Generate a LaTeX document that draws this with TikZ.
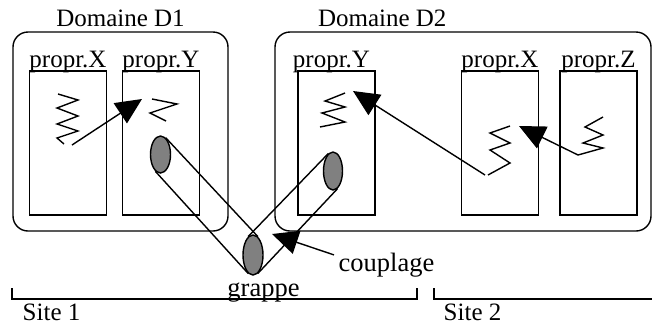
\documentclass[tikz,border=0pt]{standalone}
\usepackage{fontspec}
\setmainfont{Liberation Serif}
\usetikzlibrary{arrows.meta,shapes.geometric}
\definecolor{grappe_gray}{RGB}{128,128,128}

\begin{document}
\begin{tikzpicture}[x=1pt,y=-1pt,line width=1.4pt]
    \tikzstyle{dom}=[draw, rectangle, rounded corners=15pt, minimum width=215pt, minimum height=199pt, inner sep=0pt]
    \tikzstyle{prop}=[draw, rectangle, minimum width=77pt, minimum height=144pt, inner sep=0pt]
    \tikzstyle{grappe}=[draw, ellipse, fill=grappe_gray, inner sep=0pt, minimum width=20pt, minimum height=38pt]
    \tikzstyle{lbl}=[inner sep=0pt, font=\fontsize{25}{30}\selectfont]
    \tikzstyle{lblg}=[style=lbl, font=\fontsize{26.5}{30}\selectfont]
    \tikzstyle{fleche}=[-{Triangle[length=26pt,width=24pt]}]

    \useasboundingbox (0,0) rectangle (652,325);

    % domaines
    \node[dom]                      (dom1) at (120.5,131.5) {};
    \node[dom, minimum width=376pt] (dom2) at (463,131.5)   {};
    \node[lbl, anchor=base]      (t1) at ([yshift=5pt]dom1.north)                  {Domaine D1};
    \node[lbl, anchor=base west] (t2) at ([xshift=43pt,yshift=5pt]dom2.north west) {Domaine D2};

    % proprietes
    \node[prop] (p1x) at (68,143)    {};
    \node[prop] (p1y) at (161,143)   {};
    \node[prop] (p2y) at (336.5,143) {};
    \node[prop] (p2x) at (500,143)   {};
    \node[prop] (p2z) at (598.5,143) {};
    \node[lbl, anchor=base] (l1x) at ([yshift=3pt]p1x.north)            {propr.X};
    \node[lbl, anchor=base] (l1y) at ([yshift=3pt]p1y.north)            {propr.Y};
    \node[lbl, anchor=base] (l2y) at ([xshift=-5pt,yshift=3pt]p2y.north) {propr.Y};
    \node[lbl, anchor=base] (l2x) at ([yshift=3pt]p2x.north)            {propr.X};
    \node[lbl, anchor=base] (l2z) at ([yshift=3pt]p2z.north)            {propr.Z};

    % ressorts
    \draw (58,94) -- (78,100) -- (57,108) -- (78,116) -- (57,124) -- (78,131) -- (57,138) -- (64,144);
    \draw (152,99) -- (177,104) -- (150,113) -- (166,121);
    \draw (345,93) -- (325,101) -- (345,107) -- (322,113) -- (345,122) -- (320,127);
    \draw (510,126) -- (490,133) -- (510,143) -- (490,150) -- (510,163) -- (488,175);
    \draw (603,117) -- (585,127) -- (603,135) -- (583,143) -- (603,148) -- (578,155);
    \coordinate (r1) at (72,145);
    \coordinate (r2) at (485,175);
    \coordinate (r3) at (578,155);
    \coordinate (f1) at (142,99);
    \coordinate (f2) at (353,91);
    \coordinate (f3) at (519,126);

    % grappe et couplage
    \node[grappe, minimum height=37pt] (e1) at (160.5,154.5) {};
    \node[grappe, minimum width=19pt]  (e2) at (333,171)     {};
    \node[grappe, minimum height=40pt] (eg) at (253,255)     {};
    \node[lblg, anchor=base]      (gr)  at (263.5,296) {grappe};
    \node[lblg, anchor=base west] (cpl) at (338,271)   {couplage};
    \coordinate (fc) at (272,234);

    \path
     (e1.73)  edge (eg.75)
     (e1.253) edge (eg.255)
     (e2.105) edge (eg.105)
     (e2.285) edge (eg.285)
     (r1) edge[fleche] (f1)
     (r2) edge[fleche] (f2)
     (r3) edge[fleche] (f3)
     ([xshift=-4pt,yshift=-3pt]cpl.north west) edge[fleche] (fc)
     ;

    % sites
    \draw (12,288) -- (12,299) -- (417,299) -- (417,288);
    \draw (434,288) -- (434,299) -- (652,299);
    \node[lbl, anchor=base west] (s1) at (22,320)  {Site 1};
    \node[lbl, anchor=base west] (s2) at (443,320) {Site 2};
\end{tikzpicture}
\end{document}
